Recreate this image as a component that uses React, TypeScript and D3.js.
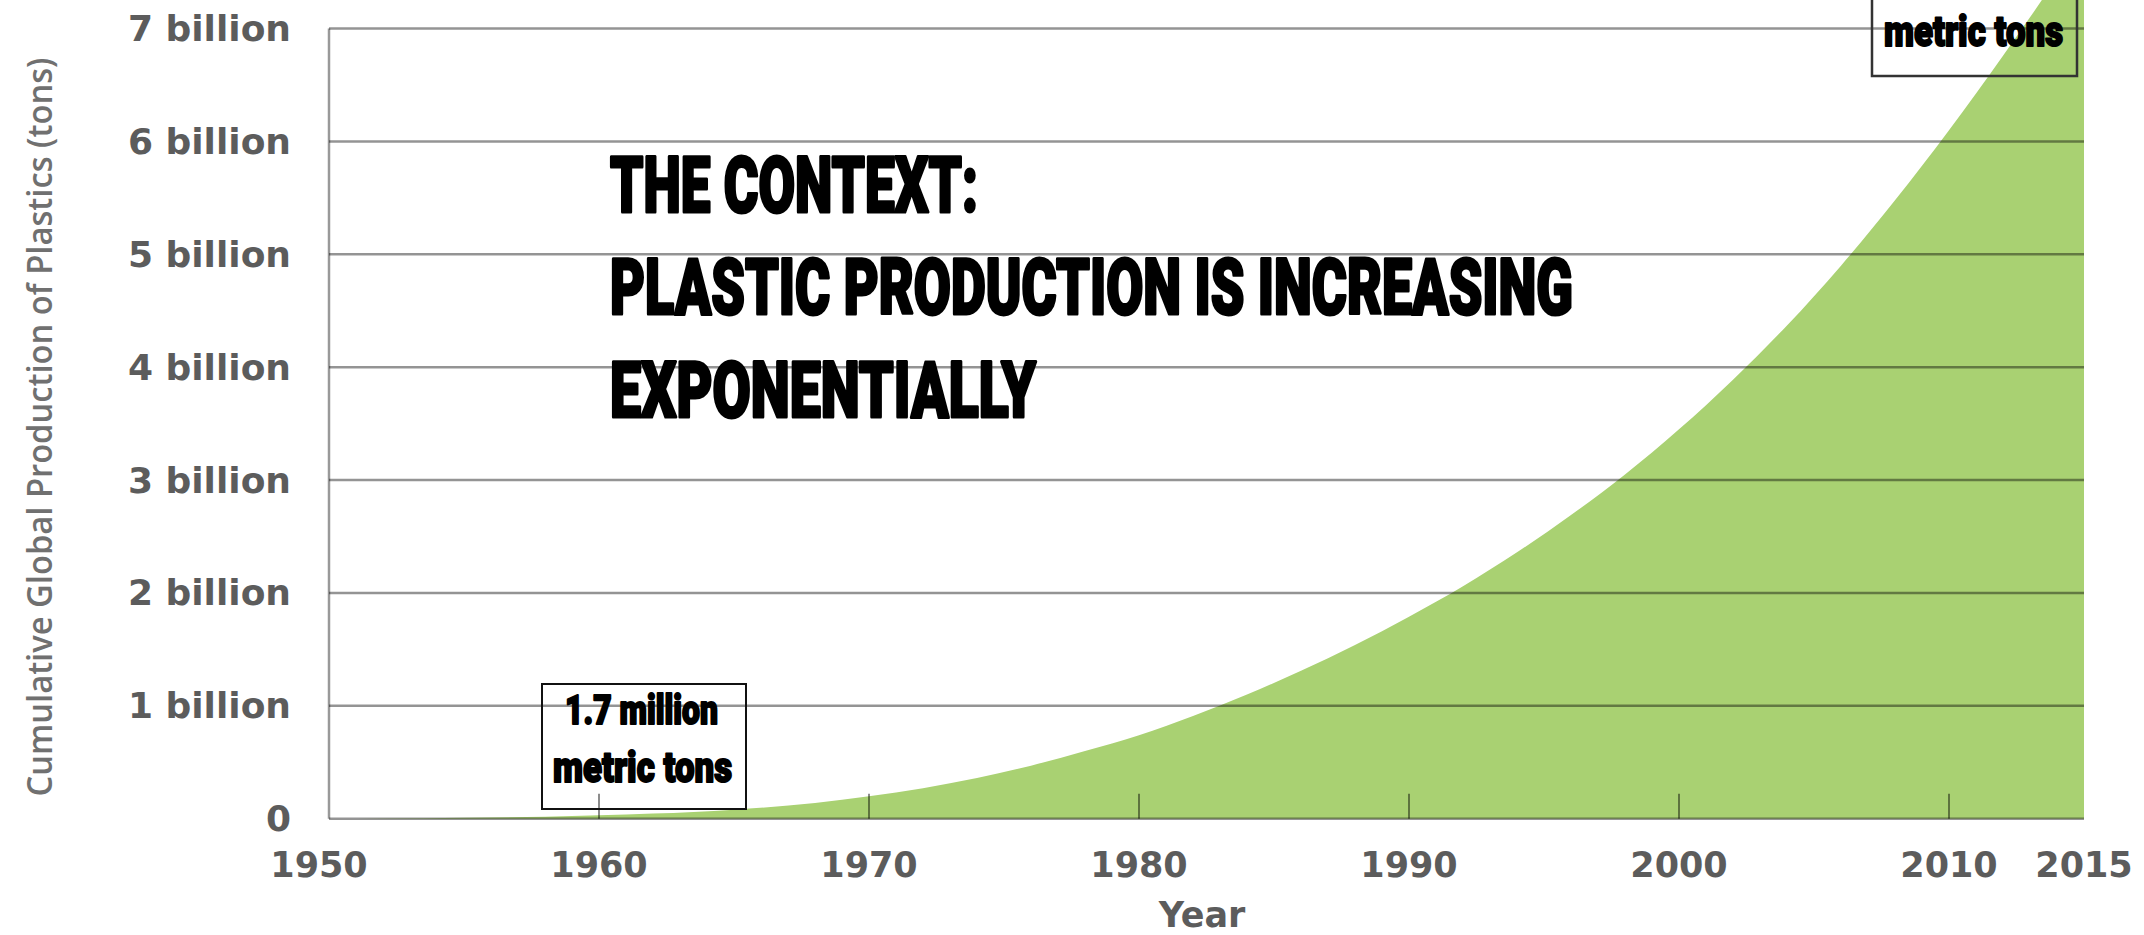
import React from "react";
import * as d3 from "d3";

// ---- data (billions of metric tons, cumulative) ----
const years = [1950, 1952, 1955, 1958, 1960, 1962, 1965, 1968, 1970, 1972, 1974, 1976, 1978, 1980, 1982, 1984, 1986, 1988, 1990, 1992, 1994, 1996, 1998, 2000, 2002, 2004, 2006, 2008, 2010, 2012, 2013, 2014, 2015];
const cumulative = [0, 0.002, 0.008, 0.018, 0.03, 0.045, 0.08, 0.14, 0.2, 0.27, 0.36, 0.47, 0.6, 0.74, 0.91, 1.1, 1.31, 1.54, 1.79, 2.06, 2.36, 2.69, 3.05, 3.45, 3.89, 4.37, 4.9, 5.48, 6.1, 6.76, 7.1, 7.45, 7.8];
const yTicks = [0, 1, 2, 3, 4, 5, 6, 7];
const yTickLabels = ["0", "1 billion", "2 billion", "3 billion", "4 billion", "5 billion", "6 billion", "7 billion"];
const xTicks = [1950, 1960, 1970, 1980, 1990, 2000, 2010, 2015];
const innerTicks = [1960, 1970, 1980, 1990, 2000, 2010];
const titleLines = ["THE CONTEXT:", "PLASTIC PRODUCTION IS INCREASING", "EXPONENTIALLY"];

const W = 2144;
const H = 935;

export default function App() {
  const x = d3.scaleLinear().domain([1950, 2015]).range([329, 2084]);
  const y = d3.scaleLinear().domain([0, 7]).range([818.7, 28.6]);

  const data = years.map((yr, i) => ({ yr, v: cumulative[i] }));
  const area = d3
    .area<{ yr: number; v: number }>()
    .x((d) => x(d.yr))
    .y0(y(0))
    .y1((d) => y(d.v))
    .curve(d3.curveMonotoneX);

  const labelFont = "'DejaVu Sans', Verdana, sans-serif";
  const heavyFont = "Roboto, 'DejaVu Sans Condensed', sans-serif";

  const titleY = [212, 314, 417];
  const titleW = [368, 963, 426];

  return (
    <svg
      width={W}
      height={H}
      viewBox={`0 0 ${W} ${H}`}
      style={{ position: "absolute", left: 0, top: 0, background: "#fff" }}
    >
      <rect x={0} y={0} width={W} height={H} fill="#fff" />

      {/* green area */}
      <path d={area(data) || ""} fill="#a9d172" />

      {/* gridlines */}
      {yTicks.map((t) => (
        <line
          key={"g" + t}
          x1={x(1950)}
          x2={x(2015)}
          y1={y(t)}
          y2={y(t)}
          stroke="#000"
          strokeOpacity={0.42}
          strokeWidth={2.5}
        />
      ))}

      {/* left axis line */}
      <line x1={x(1950)} x2={x(1950)} y1={y(7)} y2={y(0)} stroke="#000" strokeOpacity={0.4} strokeWidth={2.5} />

      {/* inner ticks on x axis */}
      {innerTicks.map((t) => (
        <line
          key={"t" + t}
          x1={x(t)}
          x2={x(t)}
          y1={y(0) - 25}
          y2={y(0)}
          stroke="#000"
          strokeOpacity={0.45}
          strokeWidth={2}
        />
      ))}

      {/* y tick labels */}
      {yTicks.map((t, i) => (
        <text
          key={"yl" + t}
          x={291}
          y={y(t) + 12.5}
          textAnchor="end"
          fontFamily={labelFont}
          fontWeight="bold"
          fontSize={36}
          fill="#5c5c5c"
        >
          {yTickLabels[i]}
        </text>
      ))}

      {/* x tick labels */}
      {xTicks.map((t) => (
        <text
          key={"xl" + t}
          x={t === 1950 ? x(t) - 10 : x(t)}
          y={877}
          textAnchor="middle"
          fontFamily={labelFont}
          fontWeight="bold"
          fontSize={35}
          fill="#5c5c5c"
        >
          {t}
        </text>
      ))}

      {/* x axis title */}
      <text
        x={1202}
        y={927}
        textAnchor="middle"
        fontFamily={labelFont}
        fontWeight="bold"
        fontSize={35}
        fill="#5c5c5c"
      >
        Year
      </text>

      {/* y axis title */}
      <text
        transform="translate(52, 427) rotate(-90)"
        textAnchor="middle"
        fontFamily="'Open Sans', sans-serif"
        fontWeight={600}
        fontSize={35}
        fill="#707070"
        textLength={739}
        lengthAdjust="spacingAndGlyphs"
      >
        Cumulative Global Production of Plastics (tons)
      </text>

      {/* title */}
      {titleLines.map((s, i) => (
        <text
          key={"title" + i}
          x={610}
          y={titleY[i]}
          fontFamily={heavyFont}
          fontWeight={900}
          fontSize={77}
          fill="#000"
          stroke="#000"
          strokeWidth={3}
          strokeLinejoin="round"
          textLength={titleW[i]}
          lengthAdjust="spacingAndGlyphs"
        >
          {s}
        </text>
      ))}

      {/* bottom annotation box */}
      <rect x={542} y={684} width={204} height={125} fill="none" stroke="#111" strokeWidth={2} />
      <text
        x={565}
        y={724}
        fontFamily={heavyFont}
        fontWeight={900}
        fontSize={40}
        fill="#000"
        stroke="#000"
        strokeWidth={2}
        strokeLinejoin="round"
        textLength={153}
        lengthAdjust="spacingAndGlyphs"
      >
        1.7 million
      </text>
      <text
        x={553}
        y={782}
        fontFamily={heavyFont}
        fontWeight={900}
        fontSize={42}
        fill="#000"
        stroke="#000"
        strokeWidth={2}
        strokeLinejoin="round"
        textLength={179}
        lengthAdjust="spacingAndGlyphs"
      >
        metric tons
      </text>

      {/* top-right annotation box (top cut off) */}
      <rect x={1872} y={-60} width={205} height={136} fill="none" stroke="#333" strokeWidth={2.5} />
      <text
        x={1884}
        y={46}
        fontFamily={heavyFont}
        fontWeight={900}
        fontSize={42}
        fill="#000"
        stroke="#000"
        strokeWidth={2}
        strokeLinejoin="round"
        textLength={179}
        lengthAdjust="spacingAndGlyphs"
      >
        metric tons
      </text>
    </svg>
  );
}
